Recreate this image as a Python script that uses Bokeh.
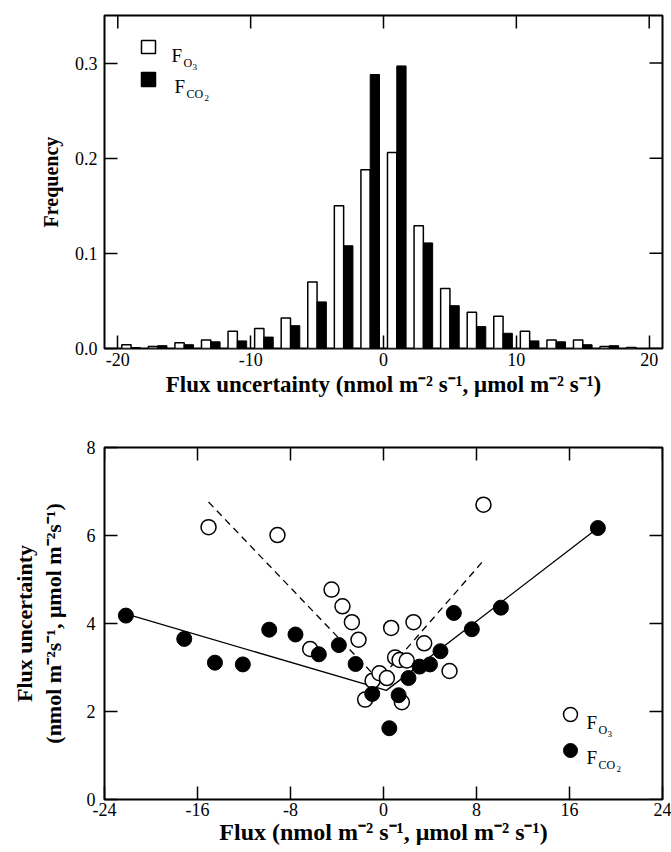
import numpy as np
from bokeh.plotting import figure
from bokeh.models import (Range1d, FixedTicker, Label, PrintfTickFormatter, BoxAnnotation)
from bokeh.layouts import column
from bokeh.embed import file_html
from bokeh.resources import INLINE

# ---------------- data ----------------
bin_centers = [-19, -17, -15, -13, -11, -9, -7, -5, -3, -1, 1, 3, 5, 7, 9, 11, 13, 15, 17, 19]
freq_o3 = [0.004, 0.002, 0.006, 0.009, 0.018, 0.021, 0.032, 0.070, 0.150, 0.188,
           0.206, 0.129, 0.063, 0.038, 0.034, 0.018, 0.009, 0.009, 0.002, 0.001]
freq_co2 = [0.001, 0.003, 0.004, 0.007, 0.008, 0.012, 0.024, 0.049, 0.108, 0.288,
            0.297, 0.111, 0.045, 0.023, 0.016, 0.008, 0.007, 0.004, 0.003, 0.000]

flux_o3 = [-15.05, -9.12, -6.31, -4.47, -3.53, -2.72, -2.15, -1.58, -0.94, -0.35,
           0.29, 0.66, 1.0, 1.38, 2.0, 1.58, 2.58, 3.5, 5.68, 8.6]
unc_o3 = [6.19, 6.01, 3.42, 4.77, 4.39, 4.03, 3.63, 2.27, 2.70, 2.87,
          2.76, 3.90, 3.23, 3.17, 3.16, 2.21, 4.03, 3.55, 2.92, 6.70]

flux_co2 = [-22.16, -17.14, -14.5, -12.1, -9.83, -7.57, -5.56, -3.84, -2.4, -0.97,
            0.5, 1.3, 2.15, 3.1, 4.0, 4.9, 6.05, 7.6, 10.1, 18.44]
unc_co2 = [4.18, 3.65, 3.11, 3.07, 3.86, 3.75, 3.30, 3.51, 3.08, 2.40,
           1.62, 2.37, 2.76, 3.02, 3.07, 3.37, 4.24, 3.87, 4.36, 6.17]

fit_co2_x = [-22.16, 0.25, 18.44]
fit_co2_y = [4.22, 2.48, 6.17]
fit_o3_x = [-15.05, -0.38, 8.6]
fit_o3_y = [6.76, 2.71, 5.43]

hist_xticks = [-20, -10, 0, 10, 20]
hist_yticks = [0.0, 0.1, 0.2, 0.3]
scat_xticks = [-24, -16, -8, 0, 8, 16, 24]
scat_yticks = [0, 2, 4, 6, 8]

SERIF = "Liberation Serif"
BAR_HALF = 0.7
TICK = 13


def style_axes(p, xticks, yticks, fw, fh, xfmt, yfmt):
    p.outline_line_color = "black"
    p.outline_line_width = 2
    p.outline_line_alpha = 1
    p.grid.visible = False
    p.background_fill_color = "white"
    p.border_fill_color = "white"
    xa = p.below[0]
    ya = p.left[0]
    xa.ticker = FixedTicker(ticks=xticks)
    ya.ticker = FixedTicker(ticks=yticks)
    xa.formatter = PrintfTickFormatter(format=xfmt)
    ya.formatter = PrintfTickFormatter(format=yfmt)
    for ax in [xa, ya]:
        ax.axis_line_color = None
        ax.major_tick_in = TICK
        ax.major_tick_out = 0
        ax.major_tick_line_width = 1.5
        ax.major_tick_line_color = "black"
        ax.minor_tick_line_color = None
        ax.major_label_text_font = SERIF
        ax.major_label_text_font_size = "18px"
        ax.major_label_text_color = "black"
        ax.axis_label_text_font = SERIF
        ax.axis_label_text_font_style = "bold"
        ax.axis_label_text_font_size = "20px"
        ax.axis_label_text_color = "black"
    # inward ticks on the top and right frame edges
    xr, yr = p.x_range, p.y_range
    dy = TICK * (yr.end - yr.start) / fh
    dx = TICK * (xr.end - xr.start) / fw
    xt = np.array(xticks, dtype=float)
    yt = np.array(yticks, dtype=float)
    p.segment(x0=xt, x1=xt, y0=np.full(len(xt), yr.end), y1=np.full(len(xt), yr.end - dy),
              line_color="black", line_width=1.5)
    p.segment(x0=np.full(len(yt), xr.end), x1=np.full(len(yt), xr.end - dx), y0=yt, y1=yt,
              line_color="black", line_width=1.5)
    return xa, ya


def txt(p, x, y, s, size):
    p.add_layout(Label(x=x, y=y, x_units="screen", y_units="screen", text=s,
                       text_font=SERIF, text_font_size=size, text_color="black",
                       text_baseline="alphabetic", text_align="left"))


def box(p, l, r, b, t, fill, radius=0, lw=1.5):
    p.add_layout(BoxAnnotation(left=l, right=r, bottom=b, top=t,
                               left_units="screen", right_units="screen",
                               bottom_units="screen", top_units="screen",
                               fill_color=fill, fill_alpha=1, line_color="black",
                               line_width=lw, line_alpha=1, border_radius=radius,
                               editable=False, propagate_hover=False))


# ---------------- top: histogram ----------------
FW, FH1, FH2 = 558, 333, 352
p1 = figure(frame_width=FW, frame_height=FH1, output_backend="svg", toolbar_location=None,
            x_range=Range1d(-21, 21), y_range=Range1d(0, 0.35),
            min_border_left=103, min_border_right=10, min_border_top=15, min_border_bottom=56)
xa1, ya1 = style_axes(p1, hist_xticks, hist_yticks, FW, FH1, "%d", "%.1f")
xa1.axis_label = "Flux uncertainty (nmol m\u207b\u00b2 s\u207b\u00b9, \u03bcmol m\u207b\u00b2 s\u207b\u00b9)"
xa1.axis_label_text_font_size = "23px"
ya1.axis_label = "Frequency"
xa1.major_label_standoff = 4
xa1.axis_label_standoff = 3
ya1.major_label_standoff = 7
ya1.axis_label_standoff = 10

bc = np.array(bin_centers, dtype=float)
p1.quad(left=bc - BAR_HALF, right=bc, bottom=0, top=freq_o3,
        fill_color="white", line_color="black", line_width=1.5)
p1.quad(left=bc, right=bc + BAR_HALF, bottom=0, top=freq_co2,
        fill_color="black", line_color="black", line_width=1)

# legend (frame-relative screen px, y upward)
box(p1, 37, 51, FH1 - 38, FH1 - 25, "white")
box(p1, 37, 51, FH1 - 71, FH1 - 57, "black")
txt(p1, 67, FH1 - 40, "F", "19px")
txt(p1, 79, FH1 - 47, "O", "12px")
txt(p1, 88, FH1 - 51, "3", "9px")
txt(p1, 70, FH1 - 71, "F", "19px")
txt(p1, 82, FH1 - 78, "CO", "12px")
txt(p1, 100, FH1 - 82, "2", "9px")

# ---------------- bottom: scatter ----------------
p2 = figure(frame_width=FW, frame_height=FH2, output_backend="svg", toolbar_location=None,
            x_range=Range1d(-24, 24), y_range=Range1d(0, 8),
            min_border_left=104, min_border_right=9, min_border_top=43, min_border_bottom=52)
xa2, ya2 = style_axes(p2, scat_xticks, scat_yticks, FW, FH2, "%d", "%d")
xa2.axis_label = "Flux (nmol m\u207b\u00b2 s\u207b\u00b9, \u03bcmol m\u207b\u00b2 s\u207b\u00b9)"
xa2.axis_label_text_font_size = "24px"
xa2.major_label_standoff = 3
xa2.axis_label_standoff = 0
ya2.axis_label = "Flux uncertainty\n(nmol m\u207b\u00b2s\u207b\u00b9, \u03bcmol m\u207b\u00b2s\u207b\u00b9)"
ya2.axis_label_text_font_size = "22px"
ya2.axis_label_text_line_height = 1.15
ya2.major_label_standoff = 9
ya2.axis_label_standoff = 18

p2.line(fit_o3_x, fit_o3_y, line_color="black", line_width=1.3, line_dash="7 5")
p2.line(fit_co2_x, fit_co2_y, line_color="black", line_width=1.3)
p2.scatter(flux_o3, unc_o3, marker="circle", size=15, fill_color="white",
           line_color="black", line_width=1.5)
p2.scatter(flux_co2, unc_co2, marker="circle", size=15, fill_color="black",
           line_color="black", line_width=1)

box(p2, 459, 473, 78, 92, "white", radius=7)
box(p2, 459, 473, 42, 56, "black", radius=7, lw=1)
txt(p2, 482, FH2 - 275, "F", "19px")
txt(p2, 494, FH2 - 282, "O", "12px")
txt(p2, 503, FH2 - 286, "3", "9px")
txt(p2, 482, FH2 - 310, "F", "19px")
txt(p2, 494, FH2 - 317, "CO", "12px")
txt(p2, 512, FH2 - 321, "2", "9px")

layout = column(p1, p2, spacing=0)
open("out.html", "w").write(file_html(layout, INLINE))
